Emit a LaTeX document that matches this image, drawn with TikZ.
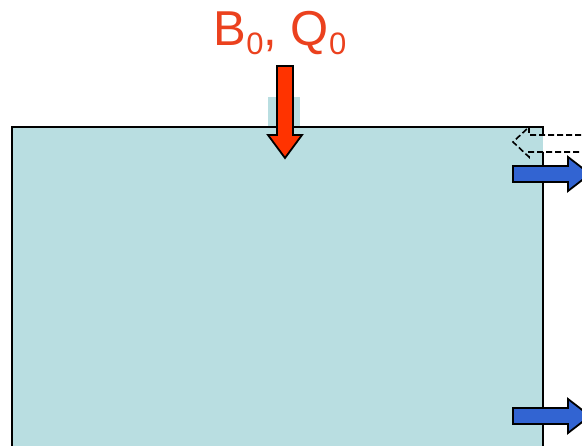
\documentclass[tikz,border=0pt]{standalone}
\usepackage{fontspec}
\setmainfont{Liberation Sans}
\definecolor{tankblue}{RGB}{185,222,225}
\definecolor{flowred}{RGB}{255,51,0}
\definecolor{labelred}{RGB}{235,65,30}
\definecolor{outblue}{RGB}{50,100,210}

\begin{document}
\begin{tikzpicture}[
  x=1pt, y=-1pt,
  wall/.style={draw=black, line width=1.8pt},
  inflow/.style={draw=black, line width=1.8pt, fill=flowred, line join=miter},
  outflow/.style={draw=black, line width=1.8pt, fill=outblue, line join=miter},
  backflow/.style={draw=black, line width=1.6pt, dashed, dash pattern=on 6pt off 3pt}
]
\useasboundingbox (0,0) rectangle (582,446);

% tank water
\fill[tankblue] (12,127) rectangle (543,450);
\fill[tankblue] (268,97) rectangle (300,127);

% tank walls
\draw[wall] (12,450) -- (12,127) -- (543,127) -- (543,135);
\draw[wall] (543,152) -- (543,450);

% label and inflow
\node[text=labelred, font=\fontsize{49}{49}\selectfont, inner sep=0pt] (load) at (280,33)
  {B\raisebox{-0.2em}{\fontsize{31}{31}\selectfont 0}, Q\raisebox{-0.2em}{\fontsize{31}{31}\selectfont 0}};
\draw[inflow] (277,66) -- (293,66) -- (293,135) -- (302,135) -- (285,158) -- (268,135) -- (277,135) -- cycle;

% return flow (dashed)
\draw[backflow] (590,135) -- (529,135) -- (529,127) -- (513,142) -- (529,157) -- (529,152) -- (590,152);

% outflows
\draw[outflow] (513,166) -- (568,166) -- (568,157) -- (590,174) -- (568,191) -- (568,182) -- (513,182) -- cycle;
\draw[outflow] (513,408) -- (568,408) -- (568,399) -- (590,416) -- (568,433) -- (568,424) -- (513,424) -- cycle;
\end{tikzpicture}
\end{document}
